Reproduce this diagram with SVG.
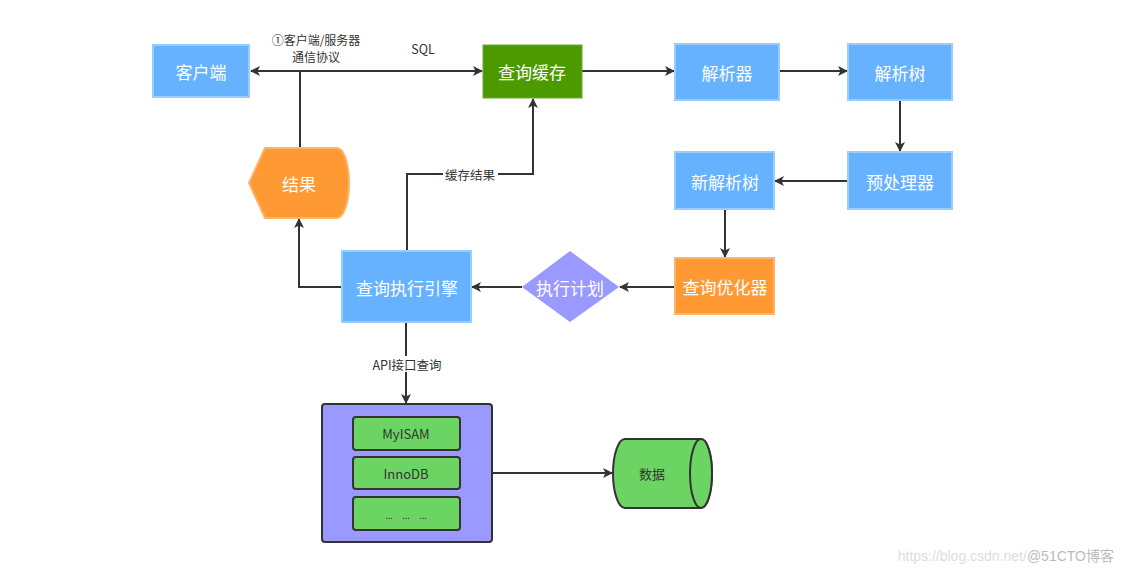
<svg xmlns="http://www.w3.org/2000/svg" width="1124" height="579" viewBox="0 0 1124 579">
<style>
.t{font-family:"Noto Sans CJK SC","Liberation Sans",sans-serif;font-size:17px;fill:#fff;text-anchor:middle;dominant-baseline:central}
.l{font-family:"Noto Sans CJK SC","Liberation Sans",sans-serif;font-size:12.5px;fill:#333;text-anchor:middle;dominant-baseline:central}
.blue{fill:#66B2FF;stroke:#99CCFF;stroke-width:2}
.orange{fill:#FF9933;stroke:#FFB366;stroke-width:2}
.green{fill:#6CD462;stroke:#333;stroke-width:2}
.c{fill:none;stroke:#333;stroke-width:2;marker-end:url(#a)}
</style>
<defs>
<marker id="a" markerWidth="10" markerHeight="10" refX="9" refY="5" orient="auto" markerUnits="userSpaceOnUse">
<path d="M0,0 L10,5 L0,10 L2.5,5 Z" fill="#333"/>
</marker>
</defs>
<rect width="1124" height="579" fill="#fff"/>
<g id="connectors">
<path class="c" d="M300 148 L300 71 L251 71"/>
<path class="c" d="M300 71 L482 71"/>
<path class="c" d="M582 71 L674 71"/>
<path class="c" d="M779 71 L847 71"/>
<path class="c" d="M900 100 L900 151"/>
<path class="c" d="M848 181 L775 181"/>
<path class="c" d="M725 209 L725 257"/>
<path class="c" d="M675 287 L620 287"/>
<path class="c" d="M522 287 L472 287"/>
<path class="c" d="M342 287 L299 287 L299 219"/>
<path class="c" d="M407 251 L407 174 L533 174 L533 99"/>
<path class="c" d="M406 322 L406 403"/>
<path class="c" d="M492 473 L612 473"/>
<rect x="443" y="166" width="55" height="16" fill="#fff"/>
<text class="l" x="470" y="174">缓存结果</text>
<rect x="369" y="356" width="76" height="16" fill="#fff"/>
<text class="l" x="407" y="364">API接口查询</text>
<text class="l" x="316" y="39.5" style="font-size:12px">①客户端/服务器</text>
<text class="l" x="316" y="56.5" style="font-size:12px">通信协议</text>
<text class="l" x="423" y="48">SQL</text>
</g>
<g id="client"><rect class="blue" x="153" y="45" width="96" height="52"/><text class="t" x="201" y="71">客户端</text></g>
<g id="cache"><rect x="483" y="45" width="99" height="53" fill="#4D9900" stroke="#66AA33" stroke-width="1"/><text class="t" x="532" y="71">查询缓存</text></g>
<g id="parser"><rect class="blue" x="675" y="44" width="104" height="56"/><text class="t" x="727" y="72">解析器</text></g>
<g id="parsetree"><rect class="blue" x="848" y="44" width="104" height="56"/><text class="t" x="900" y="72">解析树</text></g>
<g id="preproc"><rect class="blue" x="848" y="152" width="104" height="57"/><text class="t" x="900" y="181">预处理器</text></g>
<g id="newtree"><rect class="blue" x="675" y="152" width="99" height="57"/><text class="t" x="725" y="181">新解析树</text></g>
<g id="optimizer"><rect class="orange" x="675" y="258" width="99" height="56"/><text class="t" x="725" y="286">查询优化器</text></g>
<g id="plan"><path d="M570 251 L619 287 L570 322 L522 287 Z" fill="#9999FF"/><text class="t" x="570" y="287">执行计划</text></g>
<g id="engine"><rect class="blue" x="342" y="251" width="129" height="71"/><text class="t" x="407" y="287">查询执行引擎</text></g>
<g id="result"><path d="M265 148 L337 148 A12 35 0 0 1 337 218 L265 218 L249 183 Z" class="orange"/><text class="t" x="299" y="183">结果</text></g>
<g id="storage">
<rect x="322" y="404" width="170" height="138" rx="3" fill="#9999FF" stroke="#333" stroke-width="2"/>
<rect class="green" x="353" y="417" width="107" height="33" rx="3"/>
<text class="l" x="406" y="433" style="font-size:13px">MyISAM</text>
<rect class="green" x="353" y="457" width="107" height="32" rx="3"/>
<text class="l" x="406" y="473" style="font-size:13px">InnoDB</text>
<rect class="green" x="353" y="497" width="107" height="33" rx="3"/>
<text class="l" x="389" y="515" style="font-size:9px">...</text>
<text class="l" x="406" y="515" style="font-size:9px">...</text>
<text class="l" x="423" y="515" style="font-size:9px">...</text>
</g>
<g id="data">
<path d="M625 439 L701 439 A11 34.5 0 0 1 701 508 L625 508 A12 34.5 0 0 1 625 439 Z" fill="#6CD462" stroke="#333" stroke-width="2"/>
<ellipse cx="701" cy="473.5" rx="11" ry="34.5" fill="#6CD462" stroke="#333" stroke-width="2"/>
<text class="l" x="652" y="473" style="font-size:13px">数据</text>
</g>
<text x="1114" y="561" style="font-family:'Liberation Sans','Noto Sans CJK SC',sans-serif;font-size:14px;fill:#ddd;text-anchor:end">https://blog.csdn.net/<tspan fill="#bbb">@51CTO博客</tspan></text>
</svg>
